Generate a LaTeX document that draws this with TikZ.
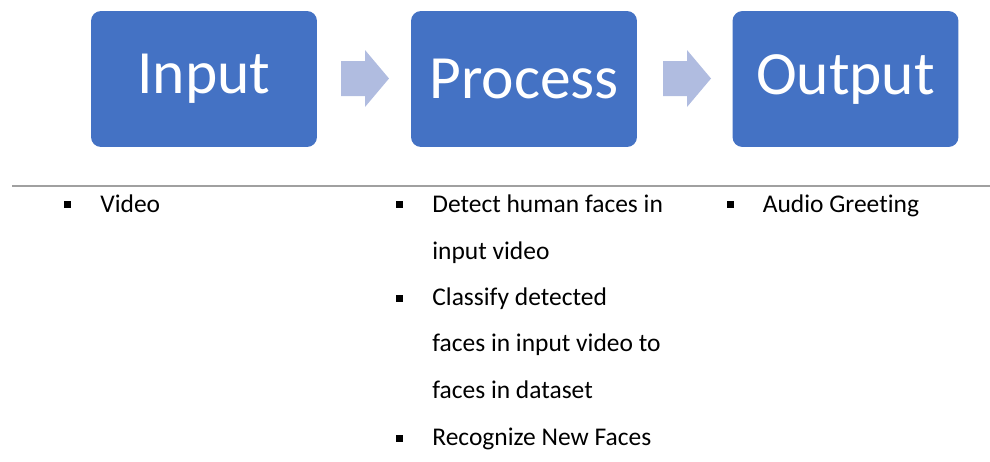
\documentclass[tikz,border=0pt]{standalone}
\usepackage{fontspec}
\setmainfont{Carlito}[Ligatures={NoCommon}]
\usetikzlibrary{positioning}

\definecolor{boxblue}{RGB}{68,114,196}
\definecolor{arrowblue}{RGB}{176,188,224}
\definecolor{rulegray}{RGB}{160,160,160}

\begin{document}
\begin{tikzpicture}[x=0.02cm, y=-0.02cm,
    stage/.style={fill=boxblue, rounded corners=0.2cm, minimum width=4.52cm,
                  minimum height=2.72cm, text=white, font=\fontsize{35}{40}\selectfont},
    bullet/.style={fill=black, inner sep=0pt, minimum size=0.14cm},
    item/.style={anchor=base west, inner sep=0pt, align=left,
                 font=\fontsize{14.5}{26.5}\selectfont}]
    \useasboundingbox (0,0) rectangle (990,461);

    % stages
    \node[stage] (input) at (204,79) {Input};
    \node[stage] (process) at (524,79) {Process};
    \node[stage] (output) at (845.5,79) {Output};

    % block arrows between the stages
    \foreach \dx in {0,322} {
      \fill[arrowblue] (341+\dx,61) -- (365+\dx,61) -- (365+\dx,50) -- (389+\dx,78.5)
                       -- (365+\dx,107) -- (365+\dx,96) -- (341+\dx,96) -- cycle;
    }

    \draw[rulegray, line width=0.8pt] (12,186) -- (990,186);

    % input column
    \node[bullet] (inb1) at (67,204) {};
    \node[item] (video) at (100,212.5) {Video};

    % process column (base = last line)
    \node[bullet] (prb1) at (399,204) {};
    \node[item] (detect) at (432,259) {Detect human faces in\\input video};
    \node[bullet] (prb2) at (399,298) {};
    \node[item] (classify) at (432,398.5) {Classify detected\\faces in input video to\\faces in dataset};
    \node[bullet] (prb3) at (399,438.5) {};
    \node[item] (recognize) at (432,445.5) {Recognize New Faces};

    % output column
    \node[bullet] (outb1) at (730,204) {};
    \node[item] (audio) at (762.5,212.5) {Audio Greeting};
\end{tikzpicture}
\end{document}
